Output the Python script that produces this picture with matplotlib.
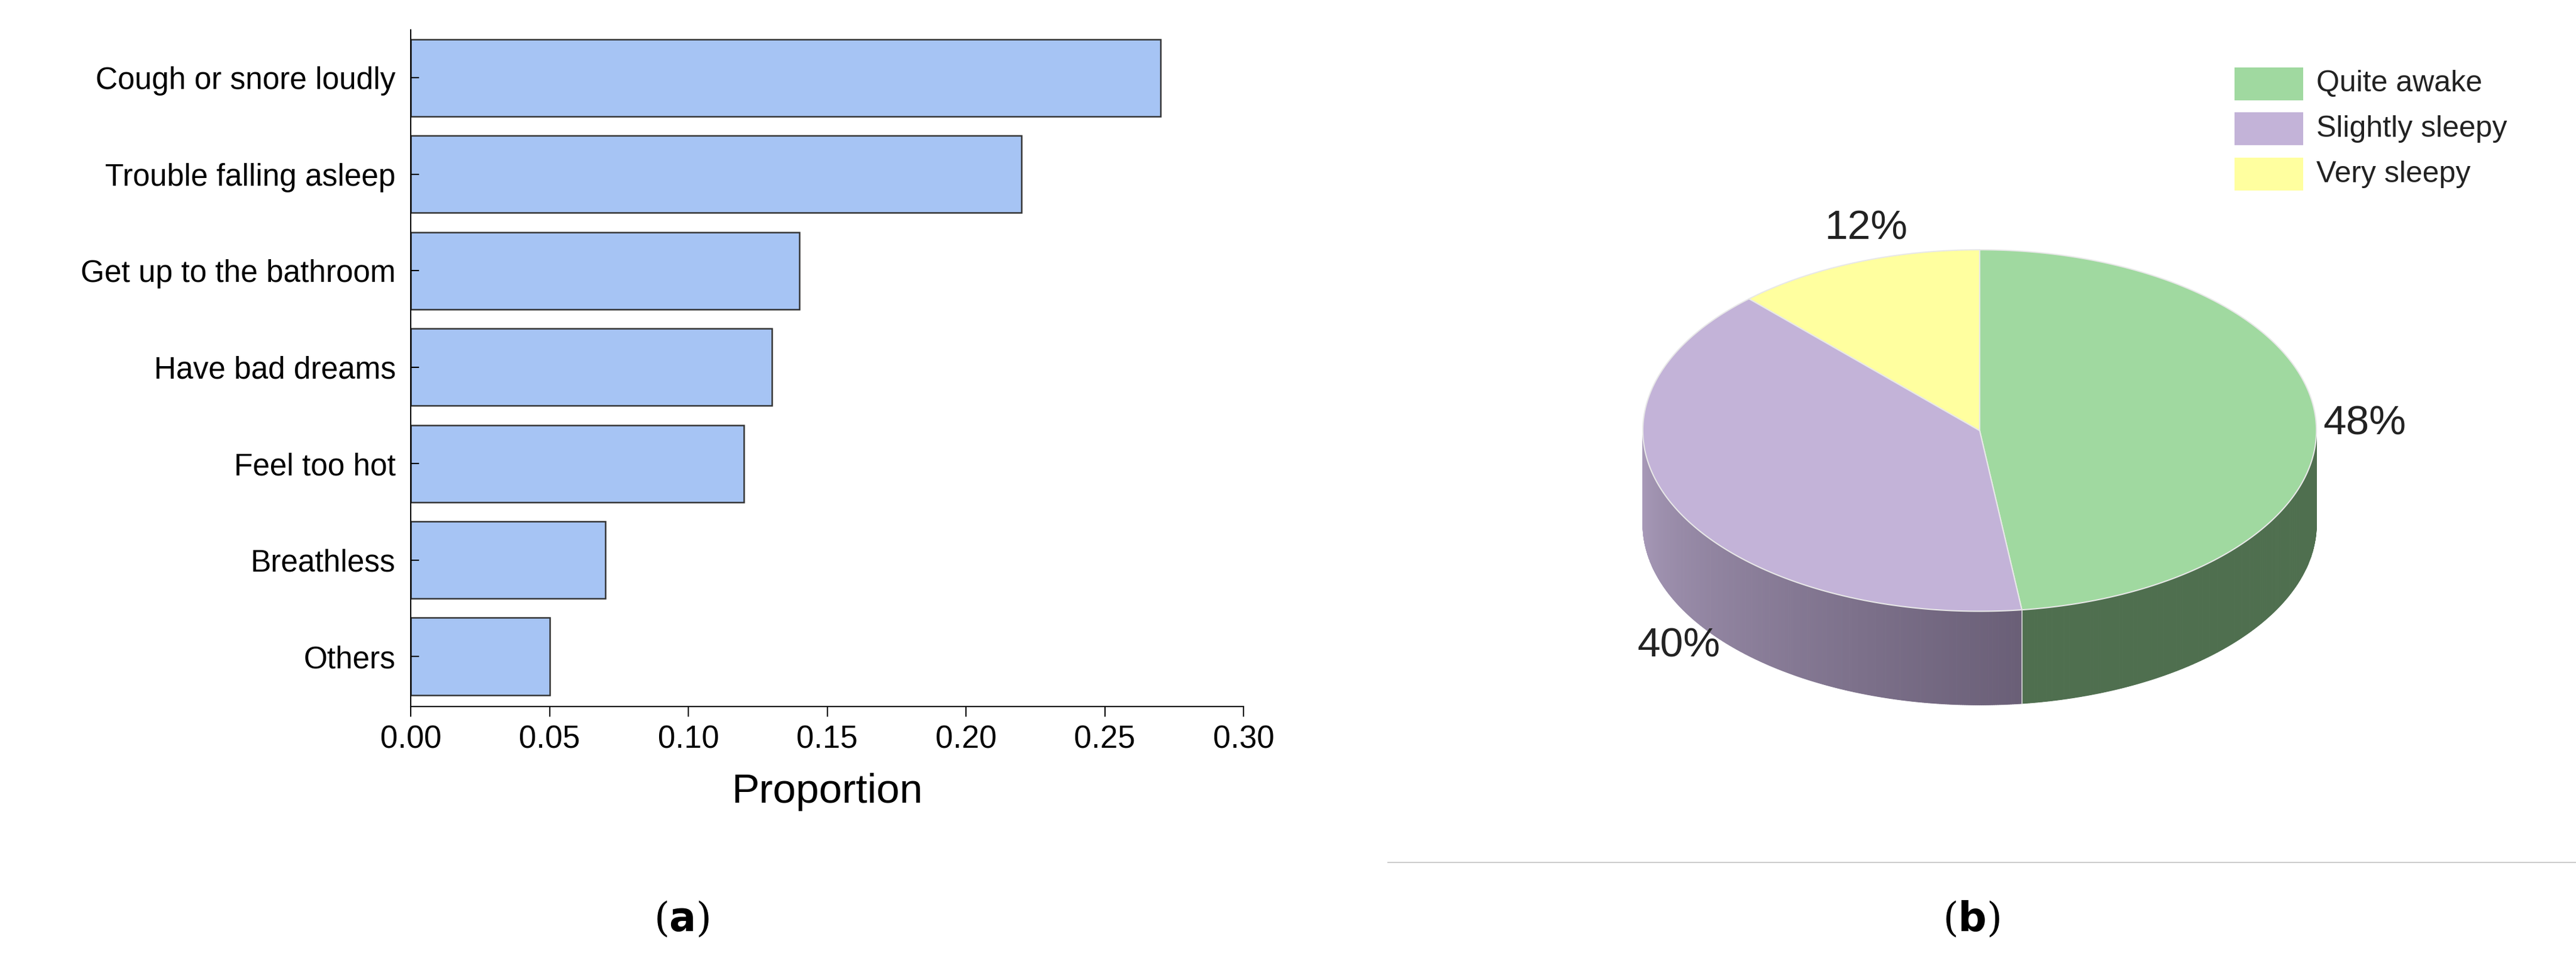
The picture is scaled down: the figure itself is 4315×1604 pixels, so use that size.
import numpy as np
import matplotlib
matplotlib.use("Agg")
import matplotlib.pyplot as plt
from matplotlib.patches import Polygon, Rectangle
from matplotlib.colors import to_rgb

categories = ["Cough or snore loudly", "Trouble falling asleep", "Get up to the bathroom",
              "Have bad dreams", "Feel too hot", "Breathless", "Others"]
proportions = [0.27, 0.22, 0.14, 0.13, 0.12, 0.07, 0.05]
xticks = [0.00, 0.05, 0.10, 0.15, 0.20, 0.25, 0.30]

pie_labels = ["Quite awake", "Slightly sleepy", "Very sleepy"]
pie_values = [48, 40, 12]
pie_top = ["#a0d9a0", "#c3b3d8", "#ffff9f"]

plt.rcParams['font.family'] = ['Liberation Sans', 'DejaVu Sans']
W, H = 1568, 583
fig = plt.figure(figsize=(43.15, 16.04), dpi=100)

# ---- bar chart
ax = fig.add_axes([250 / W, 1 - 430 / H, (757 - 250) / W, (430 - 18) / H])
y = np.arange(len(categories))
ax.barh(y, proportions, height=0.8, color="#a6c4f4", edgecolor="#333333", linewidth=1.8)
ax.set_ylim(len(categories) - 0.5 + 0.02, -0.5)
ax.set_xlim(0, 0.30)
ax.set_xticks(xticks)
ax.set_xticklabels([f"{v:.2f}" for v in xticks], fontsize=38)
ax.set_yticks(y)
ax.set_yticklabels(categories, fontsize=37)
ax.tick_params(axis='x', direction='out', length=12, width=1.5, pad=10)
ax.tick_params(axis='y', direction='in', length=10, width=1.5, pad=18)
for s in ["top", "right"]:
    ax.spines[s].set_visible(False)
for s in ["left", "bottom"]:
    ax.spines[s].set_linewidth(1.5)
ax.set_xlabel("Proportion", fontsize=50, labelpad=22)

# ---- 3D-looking pie
ov = fig.add_axes([0, 0, 1, 1])
ov.set_xlim(0, W); ov.set_ylim(0, H); ov.axis("off")
cx, cy, rx, ry, d = 1205, H - 262, 205, 110, 57
fr = np.array(pie_values, float) / sum(pie_values)
starts = 90 - 360 * np.concatenate([[0], np.cumsum(fr)[:-1]])
ends = starts - 360 * fr

def pt(t, dz=0):
    r = np.radians(t)
    return cx + rx * np.cos(r), cy + ry * np.sin(r) - dz

def mix(a, b, t):
    a, b = np.array(to_rgb(a)), np.array(to_rgb(b))
    return tuple(a + (b - a) * np.clip(t, 0, 1))

side_cols = [("#4f6f4f", "#3b533b"), ("#aa9cbb", "#6a5f77"), ("#cccc70", "#9a9a50")]
for i in range(3):
    a0, a1 = ends[i], starts[i]
    angs = np.linspace(a0, a1, 400)
    for k in range(len(angs) - 1):
        m = (angs[k] + angs[k + 1]) / 2
        if np.sin(np.radians(m)) >= 0:
            continue
        if i == 0:
            t = np.clip((-83 - m) / 20.0, 0, 1)
            c = mix(side_cols[0][0], side_cols[0][1], t)
        else:
            mm = m % 360
            t = (mm - 180) / (277 - 180)
            c = mix(side_cols[i][0], side_cols[i][1], t)
        p1, p2 = pt(angs[k]), pt(angs[k + 1])
        q2, q1 = pt(angs[k + 1], d), pt(angs[k], d)
        ov.add_patch(Polygon([p1, p2, q2, q1], closed=True, facecolor=c, edgecolor=c, linewidth=0.8))
bx, by = pt(ends[0])
ov.plot([bx, bx], [by, by - d], color="#dddddd", lw=1.2)
for i in range(3):
    angs = np.linspace(starts[i], ends[i], 300)
    pts = [(cx, cy)] + [pt(a) for a in angs]
    ov.add_patch(Polygon(pts, closed=True, facecolor=pie_top[i], edgecolor="#e8e8e8", linewidth=1.5))

ov.text(1414, H - 258, f"{pie_values[0]}%", fontsize=50, ha="left", va="center", color="#222222")
ov.text(1022, H - 393, f"{pie_values[1]}%", fontsize=50, ha="center", va="center", color="#222222")
ov.text(1136, H - 139, f"{pie_values[2]}%", fontsize=50, ha="center", va="center", color="#222222")

for i, (lab, col) in enumerate(zip(pie_labels, pie_top)):
    yy = H - (51 + 27.5 * i)
    ov.add_patch(Rectangle((1360, yy - 10), 42, 20, facecolor=col, edgecolor="none"))
    ov.text(1410, yy, lab, fontsize=36, ha="left", va="center", color="#222222")

ov.plot([845, 1568], [H - 525, H - 525], color="#cccccc", lw=1.5)
ov.text(415, H - 560, r"($\mathbf{a}$)", fontsize=48, ha="center", va="center", family="DejaVu Serif")
ov.text(1200, H - 560, r"($\mathbf{b}$)", fontsize=48, ha="center", va="center", family="DejaVu Serif")

fig.savefig("out.png", dpi=100)
